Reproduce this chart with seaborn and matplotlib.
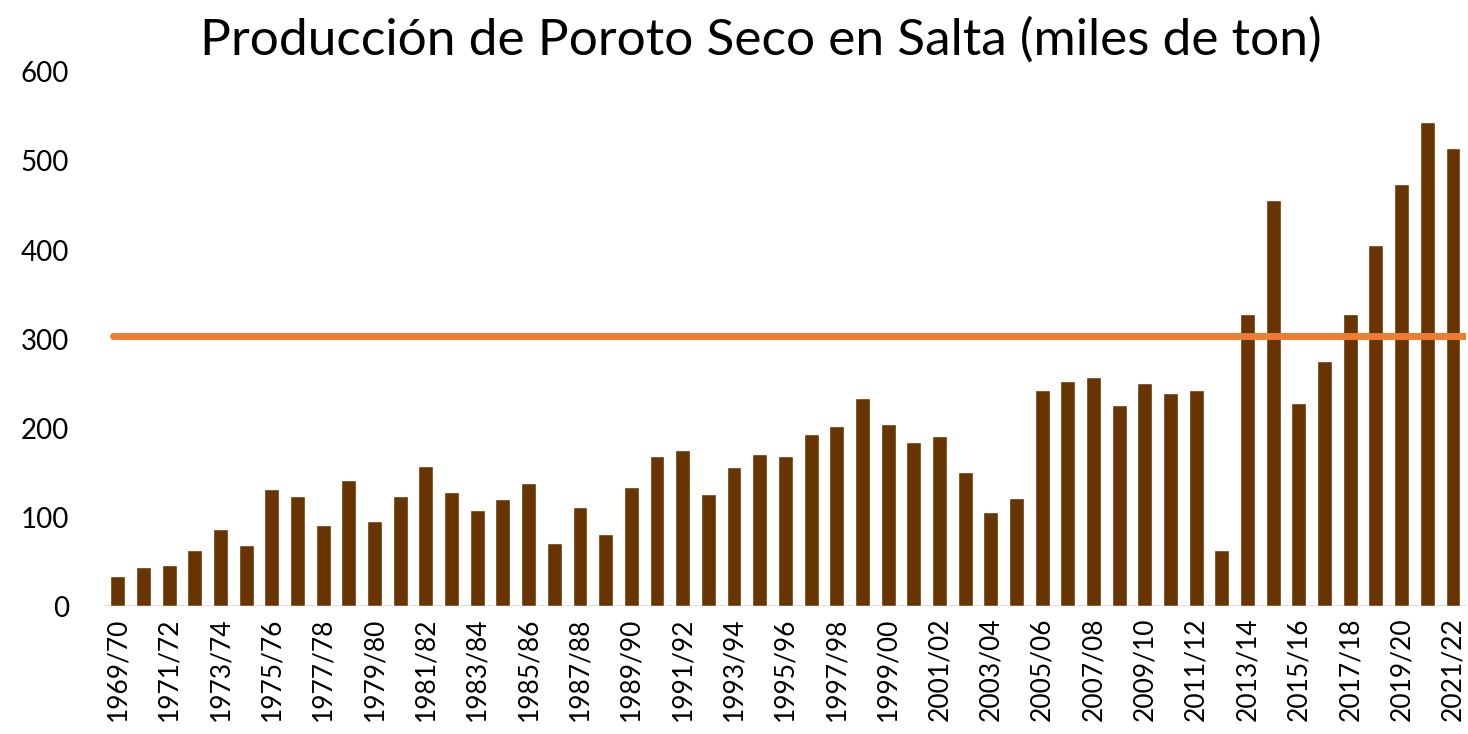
import matplotlib
matplotlib.use("Agg")
import matplotlib.pyplot as plt
import seaborn as sns
import pandas as pd

# campañas 1969/70 ... 2021/22
campanias = [f"{a}/{str(a + 1)[-2:]}" for a in range(1969, 2022)]
produccion = [
    34, 44, 46, 63, 87, 69, 132, 124, 91, 142,
    96, 124, 158, 128, 108, 120, 138, 71, 112, 81,
    134, 169, 175, 126, 156, 171, 169, 193, 202, 234,
    205, 185, 191, 151, 106, 122, 243, 253, 257, 226,
    251, 240, 243, 63, 328, 456, 228, 275, 328, 406,
    474, 544, 515,
]
promedio = 303
titulo = "Producción de Poroto Seco en Salta (miles de ton)"

df = pd.DataFrame({"campania": campanias, "produccion": produccion})

sns.set_style("white")
plt.rcParams["font.family"] = ["Lato", "DejaVu Sans"]
plt.rcParams["text.color"] = "black"
plt.rcParams["xtick.color"] = "black"
plt.rcParams["ytick.color"] = "black"

fig = plt.figure(figsize=(14.68, 7.34), dpi=100)
ax = fig.add_axes([0.0715, 0.174, 0.927, 0.728])

sns.barplot(data=df, x="campania", y="produccion", color="#683400",
            saturation=1, width=0.58, ax=ax)

ax.axhline(0, color="#d9d9e3", lw=1.5, zorder=0)
ax.hlines(promedio, -0.2, len(campanias) - 0.5, color="#ed7d31", lw=5,
          capstyle="round", zorder=3)

ax.set_xlim(-0.5, len(campanias) - 0.5)
ax.set_ylim(0, 600)
ax.set_yticks(range(0, 601, 100))
ax.set_xticks(range(0, len(campanias), 2))
ax.set_xticklabels(campanias[::2], rotation=90)
ax.tick_params(axis="x", length=0, pad=8, labelsize=19)
ax.tick_params(axis="y", length=0, pad=26, labelsize=20)
ax.set_xlabel("")
ax.set_ylabel("")
sns.despine(ax=ax, left=True, bottom=True)

fig.text(0.518, 0.945, titulo, ha="center", va="center", fontsize=37)

fig.savefig("out.png", dpi=100)
